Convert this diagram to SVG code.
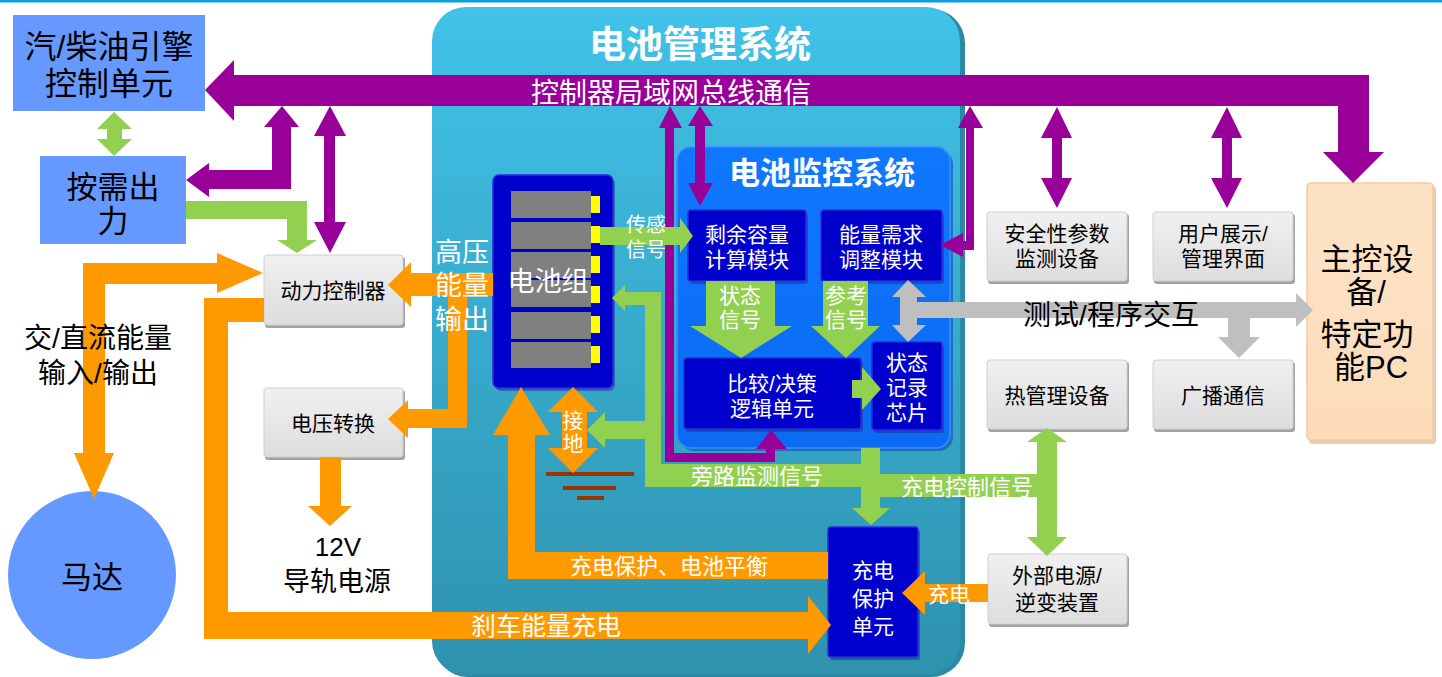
<svg xmlns="http://www.w3.org/2000/svg" width="1442" height="677" viewBox="0 0 1442 677">
<defs>
<linearGradient id="gBms" x1="0" y1="0" x2="0" y2="1">
<stop offset="0" stop-color="#41c2e9"/>
<stop offset="1" stop-color="#2e92ae"/>
</linearGradient>
<linearGradient id="gMon" x1="0" y1="0" x2="0" y2="1">
<stop offset="0" stop-color="#1078ff"/>
<stop offset="1" stop-color="#0a6af2"/>
</linearGradient>
<linearGradient id="gGray" x1="0" y1="0" x2="0" y2="1">
<stop offset="0" stop-color="#f0f0f0"/>
<stop offset="1" stop-color="#dddddd"/>
</linearGradient>
<linearGradient id="gPeach" x1="0" y1="0" x2="0" y2="1">
<stop offset="0" stop-color="#fde3c6"/>
<stop offset="1" stop-color="#fcdcba"/>
</linearGradient>
</defs>
<style>
.t{font-family:"Liberation Sans","Noto Sans CJK SC",sans-serif;text-anchor:middle;dominant-baseline:central}
.w{fill:#ffffff}
.k{fill:#000000}
.b{font-weight:bold}
.f21{font-size:21px}
.f26{font-size:26px}
.f30{font-size:30px}
.gbox{fill:url(#gGray);stroke:#d0d0d0;stroke-width:1}
.gsh{fill:#a3a3a3}
.dbox{fill:#0000cc;stroke:#2a2ae0;stroke-width:1.5}
.dsh{fill:#1b3590;opacity:0.55}
.pu{fill:#990099}
.gr{fill:#92d050}
.or{fill:#ff9900}
.gy{fill:#bfbfbf}
.bl{fill:#6699ff}
.br{fill:#993300}
.cell{fill:#808080}
.tab{fill:#ffff00}
</style>

<rect x="0" y="0" width="1442" height="2.5" fill="#0aa0e0"/>

<g id="bms">
<rect x="434" y="9" width="531" height="668" rx="34" fill="#2a8aa6"/>
<rect x="432" y="7" width="528" height="668" rx="34" fill="url(#gBms)"/>
<text class="t w b" x="700" y="45" font-size="37">电池管理系统</text>
</g>

<g id="bms-monitor">
<rect x="680" y="150" width="273" height="301" rx="14" fill="#0b4fb8" opacity="0.6"/>
<rect x="677" y="147" width="273" height="301" rx="14" fill="url(#gMon)" stroke="#3c8cff" stroke-width="1.5"/>
<text class="t w b" x="822" y="173" font-size="31">电池监控系统</text>
</g>

<g id="engine-ecu">
<rect class="bl" x="13" y="15" width="192" height="96"/>
<text class="t k" x="109" y="47" font-size="32">汽/柴油引擎</text>
<text class="t k" x="109" y="84" font-size="32">控制单元</text>
</g>

<g id="on-demand">
<rect class="bl" x="40" y="156" width="146" height="88"/>
<text class="t k" x="113" y="187" font-size="31">按需出</text>
<text class="t k" x="113" y="221" font-size="31">力</text>
</g>

<g id="power-controller">
<rect class="gsh" x="265" y="257" width="140" height="71" rx="3"/>
<rect class="gbox" x="264" y="255" width="139" height="70" rx="3"/>
<text class="t k f21" x="333" y="290">动力控制器</text>
</g>

<g id="voltage-conv">
<rect class="gsh" x="265" y="390" width="140" height="70" rx="3"/>
<rect class="gbox" x="264" y="388" width="139" height="69" rx="3"/>
<text class="t k f21" x="333" y="423">电压转换</text>
</g>

<g id="motor">
<circle cx="92" cy="575" r="84" fill="#6699ff"/>
<text class="t k" x="92" y="577" font-size="31">马达</text>
</g>

<g id="rail-12v">
<text class="t k f26" x="338" y="547">12V</text>
<text class="t k" x="337" y="582" font-size="27">导轨电源</text>
</g>

<g id="safety">
<rect class="gsh" x="988" y="214" width="141" height="70" rx="3"/>
<rect class="gbox" x="987" y="212" width="140" height="69" rx="3"/>
<text class="t k f21" x="1057" y="233">安全性参数</text>
<text class="t k f21" x="1057" y="258">监测设备</text>
</g>

<g id="user-ui">
<rect class="gsh" x="1154" y="214" width="141" height="70" rx="3"/>
<rect class="gbox" x="1153" y="212" width="140" height="69" rx="3"/>
<text class="t k f21" x="1223" y="233">用户展示/</text>
<text class="t k f21" x="1223" y="258">管理界面</text>
</g>

<g id="thermal">
<rect class="gsh" x="988" y="362" width="141" height="70" rx="3"/>
<rect class="gbox" x="987" y="360" width="140" height="69" rx="3"/>
<text class="t k f21" x="1057" y="395">热管理设备</text>
</g>

<g id="broadcast">
<rect class="gsh" x="1154" y="362" width="141" height="70" rx="3"/>
<rect class="gbox" x="1153" y="360" width="140" height="69" rx="3"/>
<text class="t k f21" x="1223" y="395">广播通信</text>
</g>

<g id="ext-power">
<rect class="gsh" x="989" y="556" width="140" height="71" rx="3"/>
<rect class="gbox" x="988" y="554" width="139" height="70" rx="3"/>
<text class="t k f21" x="1057" y="575">外部电源/</text>
<text class="t k f21" x="1057" y="602">逆变装置</text>
</g>

<g id="main-pc">
<rect x="1309" y="186" width="127" height="258" rx="4" fill="#d9b894" opacity="0.7"/>
<rect x="1307" y="183" width="126" height="257" rx="4" fill="url(#gPeach)" stroke="#f2caa0" stroke-width="1.5"/>
<text class="t k" x="1367" y="259" font-size="31">主控设</text>
<text class="t k" x="1366" y="292" font-size="31">备/</text>
<text class="t k" x="1367" y="334" font-size="31">特定功</text>
<text class="t k" x="1371" y="367" font-size="31">能PC</text>
</g>

<g id="battery-pack">
<rect class="dsh" x="495" y="178" width="120" height="213" rx="6"/>
<rect class="dbox" x="493" y="175" width="120" height="213" rx="6"/>
<rect class="cell" x="511" y="191" width="80" height="27"/>
<rect class="cell" x="511" y="222" width="80" height="27"/>
<rect class="cell" x="511" y="252" width="80" height="26"/>
<rect class="cell" x="511" y="280" width="80" height="27"/>
<rect class="cell" x="511" y="312" width="80" height="27"/>
<rect class="cell" x="511" y="342" width="80" height="26"/>
<rect class="tab" x="591" y="196" width="9" height="17"/>
<rect class="tab" x="591" y="226" width="9" height="17"/>
<rect class="tab" x="591" y="256" width="9" height="17"/>
<rect class="tab" x="591" y="286" width="9" height="17"/>
<rect class="tab" x="591" y="316" width="9" height="17"/>
<rect class="tab" x="591" y="346" width="9" height="17"/>
<text class="t w" x="548" y="282" font-size="27">电池组</text>
</g>

<g id="soc-module">
<rect class="dsh" x="690" y="213" width="118" height="71" rx="3"/>
<rect class="dbox" x="688" y="210" width="118" height="71" rx="3"/>
<text class="t w f21" x="747" y="234">剩余容量</text>
<text class="t w f21" x="747" y="259">计算模块</text>
</g>

<g id="demand-module">
<rect class="dsh" x="823" y="213" width="121" height="71" rx="3"/>
<rect class="dbox" x="821" y="210" width="121" height="71" rx="3"/>
<text class="t w f21" x="881" y="234">能量需求</text>
<text class="t w f21" x="881" y="259">调整模块</text>
</g>

<g id="logic-unit">
<rect class="dsh" x="686" y="361" width="177" height="71" rx="3"/>
<rect class="dbox" x="684" y="358" width="177" height="71" rx="3"/>
<text class="t w f21" x="772" y="383">比较/决策</text>
<text class="t w f21" x="772" y="408">逻辑单元</text>
</g>

<g id="state-chip">
<rect class="dsh" x="874" y="345" width="70" height="88" rx="3"/>
<rect class="dbox" x="872" y="342" width="70" height="88" rx="3"/>
<text class="t w f21" x="907" y="362">状态</text>
<text class="t w f21" x="907" y="387">记录</text>
<text class="t w f21" x="907" y="412">芯片</text>
</g>

<g id="charge-protect">
<rect class="dsh" x="830" y="530" width="90" height="130" rx="3"/>
<rect class="dbox" x="828" y="527" width="90" height="130" rx="3"/>
<text class="t w f21" x="873" y="570">充电</text>
<text class="t w f21" x="873" y="598">保护</text>
<text class="t w f21" x="873" y="626">单元</text>
</g>

<g id="ground">
<rect class="br" x="546" y="472" width="88" height="4"/>
<rect class="br" x="563" y="486" width="53" height="4"/>
<rect class="br" x="577" y="496" width="27" height="4"/>
</g>

<g id="connectors">
<polygon class="pu" points="205,90 234,60 234,75 1369,75 1369,152 1384,152 1353,183 1323,152 1338,152 1338,106 234,106 234,121"/>
<polygon class="pu" points="282,106 299,127 291,127 291,189 209,189 209,197 186,180 209,163 209,170 272,170 272,127 264,127"/>
<polygon class="pu" points="330,106 346,136 335,136 335,222 346,222 330,253 314,222 324,222 324,136 314,136"/>
<polygon class="pu" points="670,106 682,128 674,128 674,453 766,453 766,449 756,449 771,430 787,449 775,449 775,462 665,462 665,128 659,128"/>
<polygon class="pu" points="700,106 713,126 705,126 705,183 713,183 700,206 688,183 695,183 695,126 688,126"/>
<polygon class="pu" points="970,106 983,128 974,128 974,250 963,250 963,257 940,245 963,233 963,241 966,241 966,128 958,128"/>
<polygon class="pu" points="1057,107 1072,138 1062,138 1062,178 1072,178 1057,208 1041,178 1052,178 1052,138 1041,138"/>
<polygon class="pu" points="1227,107 1242,138 1232,138 1232,178 1242,178 1227,208 1211,178 1222,178 1222,138 1211,138"/>

<polygon class="gr" points="114,112 132,129 122,129 122,139 132,139 114,156 97,139 107,139 107,129 97,129"/>
<polygon class="gr" points="186,201 307,201 307,240 317,240 297,253 277,240 287,240 287,219 186,219"/>
<polygon class="gr" points="600,227 680,227 680,218 693,236 680,253 680,245 600,245"/>
<polygon class="gr" points="706,281 775,281 775,326 792,326 741,358 690,326 706,326"/>
<polygon class="gr" points="823,281 868,281 868,326 880,326 846,358 811,326 823,326"/>
<polygon class="gr" points="852,380 862,380 862,367 881,389 862,410 862,398 852,398"/>
<polygon class="gr" points="612,298 625,285 625,292 661,292 661,464 880,464 880,474 1037,474 1037,497 880,497 880,508 890,508 871,525 852,508 861,508 861,487 645,487 645,439 605,439 605,448 587,430 605,412 605,421 645,421 645,305 625,305 625,311"/>
<rect class="gr" x="861" y="448" width="19" height="20"/>
<polygon class="gr" points="1047,428 1067,442 1057,442 1057,537 1067,537 1047,556 1027,537 1037,537 1037,442 1027,442"/>

<polygon class="gy" points="908,280 926,297 917,297 917,302 1296,302 1296,293 1313,310 1296,327 1296,318 1250,318 1250,337 1260,337 1239,358 1218,337 1228,337 1228,318 917,318 917,325 926,325 908,342 892,325 900,325 900,297 892,297"/>

<polygon class="or" points="83,263 217,263 217,253 263,273 217,293 217,284 105,284 105,453 114,453 94,499 74,453 83,453"/>
<polygon class="or" points="493,273 493,296 467,296 467,428 408,428 408,438 388,419 408,400 408,409 448,409 448,296 411,296 411,307 388,285 411,262 411,273"/>
<polygon class="or" points="320,457 341,457 341,506 352,506 330,526 308,506 320,506"/>
<polygon class="or" points="264,298 264,322 228,322 228,612 808,612 808,596 831,625 808,654 808,639 204,639 204,298"/>
<polygon class="or" points="828,552 828,579 508,579 508,435 493,435 521,387 550,435 535,435 535,552"/>
<polygon class="or" points="573,387 598,412 587,412 587,448 598,448 573,473 548,448 562,448 562,412 548,412"/>
<polygon class="or" points="988,584 988,602 925,602 925,615 902,593 925,571 925,584"/>

<text class="t w" x="671" y="93" font-size="28">控制器局域网总线通信</text>
<text class="t k" x="98" y="338" font-size="28">交/直流能量</text>
<text class="t k" x="98" y="373" font-size="28">输入/输出</text>
<text class="t w" x="462" y="253" font-size="27">高压</text>
<text class="t w" x="462" y="286" font-size="27">能量</text>
<text class="t w" x="462" y="320" font-size="27">输出</text>
<text class="t w" x="646" y="225" font-size="20">传感</text>
<text class="t w" x="646" y="250" font-size="20">信号</text>
<text class="t w f21" x="740" y="295">状态</text>
<text class="t w f21" x="740" y="319">信号</text>
<text class="t w f21" x="846" y="295">参考</text>
<text class="t w f21" x="846" y="319">信号</text>
<text class="t k" x="1111" y="315" font-size="28">测试/程序交互</text>
<text class="t w f21" x="573" y="420">接</text>
<text class="t w f21" x="573" y="443">地</text>
<text class="t w" x="757" y="476" font-size="22">旁路监测信号</text>
<text class="t w" x="967" y="487" font-size="22">充电控制信号</text>
<text class="t w" x="669" y="566" font-size="22">充电保护、电池平衡</text>
<text class="t w" x="546" y="626" font-size="25">刹车能量充电</text>
<text class="t w f21" x="949" y="594">充电</text>
</g>
</svg>
